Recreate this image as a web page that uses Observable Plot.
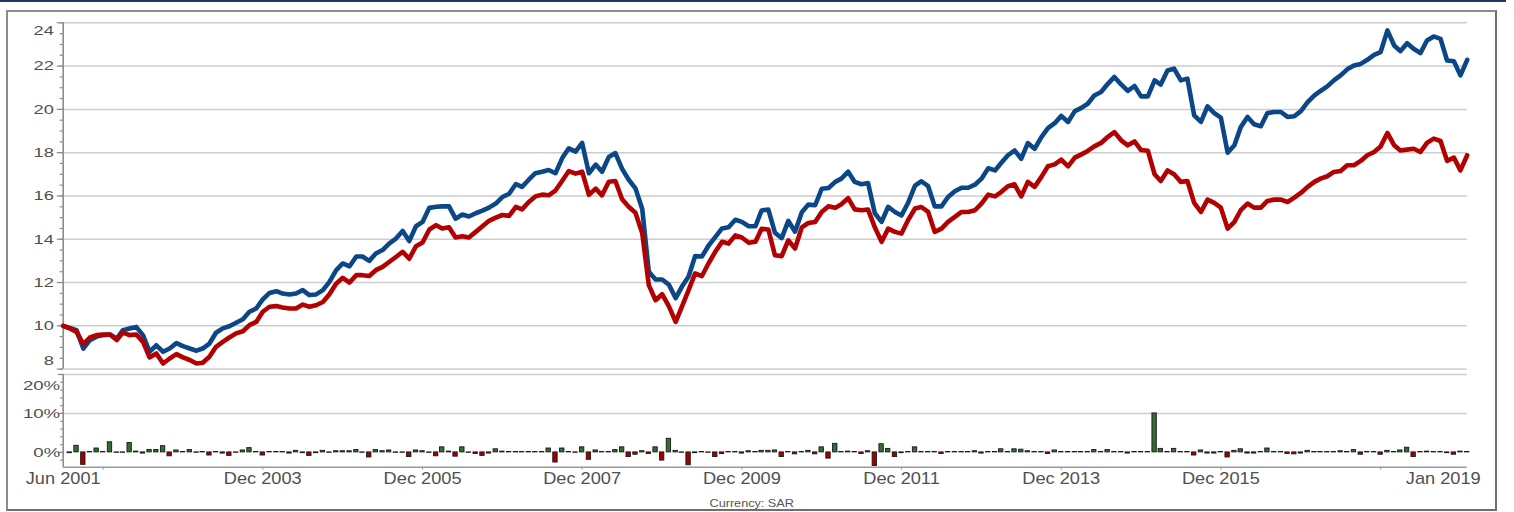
<!DOCTYPE html>
<html>
<head>
<meta charset="utf-8">
<script src="https://cdn.jsdelivr.net/npm/d3@7"></script>
<script src="https://cdn.jsdelivr.net/npm/@observablehq/plot@0.6"></script>
<style>
  body { margin: 0; background: #fff; }
  #wrap { position: relative; width: 1514px; height: 512px; overflow: hidden; font-family: "Liberation Sans", Arial, sans-serif; }
  #topline { position: absolute; left: 0; top: 0; width: 1506px; height: 2px; background: #1c3a5c; }
  #frame { position: absolute; left: 6px; top: 10px; width: 1487px; height: 497px;
           border-top: 2px solid #8c8c8c; border-left: 2px solid #8c8c8c;
           border-right: 2px solid #6f6f6f; border-bottom: 2px solid #6f6f6f; }
  #upper, #lower { position: absolute; left: 0; }
  #upper { top: 0; }
  #lower { top: 372px; }
  #caption { position: absolute; top: 497px; left: 6px; width: 1491px; text-align: center;
             font-size: 11px; line-height: 13px; color: #555; }
  #caption span { display: inline-block; transform: scaleX(1.15); }
</style>
</head>
<body>
<div id="wrap">
  <div id="topline"></div>
  <div id="frame"></div>
  <div id="upper"></div>
  <div id="lower"></div>
  <div id="caption"><span>Currency: SAR</span></div>
</div>
<script>
// ---- data (monthly, first value = Jun 2001) ----
const startYear = 2001;
const startMonthIndex = 5; // June

const fundValues = [
  10.0, 9.9, 9.8, 8.95, 9.34, 9.5, 9.57, 9.6, 9.4, 9.8,
  9.88, 9.95, 9.57, 8.8, 9.1, 8.8, 8.95, 9.2, 9.06, 8.95,
  8.85, 8.95, 9.18, 9.68, 9.88, 9.98, 10.14, 10.3, 10.65, 10.8,
  11.22, 11.52, 11.6, 11.49, 11.45, 11.49, 11.65, 11.42, 11.45, 11.65,
  12.03, 12.57, 12.88, 12.75, 13.2, 13.2, 13.0, 13.34, 13.5, 13.8,
  14.03, 14.38, 13.92, 14.6, 14.8,
  15.45, 15.5, 15.52, 15.52, 14.95, 15.14, 15.05, 15.2, 15.32, 15.46,
  15.65, 15.95, 16.1, 16.55, 16.42, 16.75, 17.05, 17.12, 17.2, 17.05,
  17.75, 18.2, 18.05, 18.45, 17.05, 17.45, 17.12, 17.8, 17.98, 17.25,
  16.75, 16.35, 15.4, 12.5, 12.14, 12.14, 11.9, 11.28, 11.8, 12.28,
  13.22, 13.2, 13.7, 14.1, 14.5, 14.55, 14.9, 14.8, 14.6, 14.6,
  15.33, 15.37, 14.3,
  14.05, 14.85, 14.35, 15.25, 15.6, 15.57, 16.33, 16.37, 16.65, 16.8,
  17.12, 16.65, 16.54, 16.6, 15.2, 14.8, 15.5, 15.26, 15.1, 15.7,
  16.48, 16.68, 16.45, 15.52, 15.52, 15.95, 16.22, 16.38, 16.38, 16.52,
  16.8, 17.28, 17.18, 17.52, 17.88, 18.1, 17.72, 18.44, 18.18, 18.72,
  19.13, 19.36, 19.7, 19.42, 19.92, 20.06, 20.26, 20.64, 20.8, 21.17,
  21.5, 21.15, 20.85, 21.08, 20.6, 20.6,
  21.34, 21.15, 21.8, 21.88, 21.34, 21.42, 19.72, 19.42, 20.14, 19.83,
  19.62, 18.0, 18.34, 19.18, 19.65, 19.31, 19.22, 19.83, 19.88, 19.88,
  19.65, 19.68, 19.92, 20.34, 20.65, 20.85, 21.06, 21.34, 21.57, 21.85,
  22.03, 22.1, 22.29, 22.52, 22.65, 23.65, 22.95, 22.69, 23.06, 22.8,
  22.6, 23.18, 23.37, 23.26, 22.26, 22.22, 21.57, 22.29
];

const benchmarkValues = [
  10.0, 9.88, 9.72, 9.15, 9.46, 9.57, 9.6, 9.6, 9.34, 9.69,
  9.57, 9.6, 9.26, 8.54, 8.72, 8.26, 8.49, 8.69, 8.54, 8.42,
  8.26, 8.29, 8.57, 9.03, 9.26, 9.46, 9.65, 9.75, 10.03, 10.18,
  10.65, 10.88, 10.91, 10.85, 10.8, 10.8, 10.98, 10.88, 10.95, 11.1,
  11.46, 11.95, 12.22, 12.0, 12.34, 12.34, 12.3, 12.57, 12.72, 12.95,
  13.18, 13.42, 13.1, 13.68, 13.85,
  14.45, 14.65, 14.5, 14.55, 14.08, 14.14, 14.08, 14.34, 14.6, 14.85,
  15.0, 15.12, 15.08, 15.5, 15.38, 15.72, 15.98, 16.06, 16.03, 16.25,
  16.7, 17.15, 17.03, 17.12, 16.05, 16.34, 16.03, 16.66, 16.69, 15.85,
  15.5, 15.22, 14.28, 11.88, 11.18, 11.46, 10.9, 10.18, 10.88, 11.65,
  12.42, 12.3, 12.88, 13.42, 13.88, 13.8, 14.18, 14.08, 13.84, 13.88,
  14.48, 14.45, 13.26,
  13.22, 13.95, 13.57, 14.55, 14.75, 14.8, 15.26, 15.52, 15.45, 15.62,
  15.9, 15.38, 15.34, 15.37, 14.55, 13.88, 14.49, 14.34, 14.26, 14.9,
  15.42, 15.49, 15.26, 14.34, 14.49, 14.8, 15.03, 15.26, 15.26, 15.34,
  15.65, 16.06, 15.98, 16.18, 16.45, 16.54, 15.98, 16.65, 16.42, 16.88,
  17.37, 17.46, 17.68, 17.37, 17.77, 17.91, 18.08, 18.29, 18.45, 18.72,
  18.95, 18.57, 18.34, 18.52, 18.12, 18.09,
  17.0, 16.69, 17.18, 17.0, 16.65, 16.69, 15.68, 15.26, 15.83, 15.68,
  15.46, 14.49, 14.8, 15.34, 15.65, 15.46, 15.46, 15.77, 15.83, 15.83,
  15.72, 15.92, 16.14, 16.42, 16.65, 16.8, 16.91, 17.11, 17.15, 17.42,
  17.42, 17.62, 17.88, 18.03, 18.29, 18.91, 18.34, 18.1, 18.14, 18.18,
  18.03, 18.45, 18.65, 18.54, 17.62, 17.77, 17.18, 17.88
];

// monthly relative returns in %, first value = Jul 2001
const relativeReturns = [
  -0.2, 1.7, -3.2, 0.1, 1.0, 0.1, 2.6, -0.1, -0.1, 2.4,
  0.2, -0.3, 0.6, 0.6, 1.6, -1.0, 0.5, 0.1, 0.6, -0.1,
  0.1, -0.8, 0.1, -0.3, -0.9, -0.1, 0.5, 1.1, 0.1, -0.8,
  0.1, 0.1, 0.1, -0.3, 0.4, -0.2, -0.9, -0.2, 0.4, -0.1,
  0.3, 0.3, 0.3, 0.6, -0.1, -1.3, 0.6, 0.3, 0.5, -0.1,
  -0.1, -1.2, 0.5, 0.3, -0.1, -1.0, 1.3, 0.2, -1.1, 1.3,
  -0.1, -0.4, -0.9, -0.3, 0.8, 0.2, 0.1, 0.1, 0.1, 0.1,
  0.1, 0.1, 1.0, -2.6, 1.0, 0.1, -0.1, 1.3, -1.9, 0.5,
  0.1, 0.1, 0.6, 1.3, -1.2, -0.6, 0.3, -0.4, 1.3, -2.1,
  3.5, 0.4, -0.1, -3.3, -0.2, 0.1, -0.1, -1.2, -0.4, 0.1,
  0.1, -0.3, 0.3, 0.1, 0.4, 0.4, 0.5, -1.2, 0.1, -0.5,
  0.1, 0.4, -0.5, 1.3, -1.6, 2.2, 0.1, 0.2, 0.1, -0.4,
  0.3, -3.5, 2.1, 0.9, -1.2, -0.2, 0.1, 1.3, 0.1, 0.1,
  0.1, -0.4, 0.1, 0.1, 0.1, 0.1, 0.3, -0.3, 0.1, 0.1,
  0.8, 0.1, 0.8, 0.7, 0.3, 0.1, 0.1, -0.4, 0.5, 0.1,
  0.1, 0.1, 0.1, 0.1, 0.6, 0.1, 0.6, 0.1, 0.1, -0.3,
  0.1, 0.1, 0.1, 10.0, 0.9, 0.1, 0.9, 0.1, 0.1, -0.8,
  0.5, -0.3, -0.3, 0.1, -1.3, 0.4, 0.8, -0.3, -0.3, 0.1,
  1.0, 0.1, 0.1, -0.4, -0.5, -0.3, 0.4, 0.1, 0.1, 0.1,
  0.1, 0.3, 0.1, 0.6, -0.6, 0.1, 0.1, -0.6, 0.4, 0.1,
  0.5, 1.2, -1.2, 0.1, 0.2, 0.1, 0.1, -0.2, -0.6, 0.2, 0.1
];

const upperTicks = [8, 10, 12, 14, 16, 18, 20, 22, 24];
const upperMinorStep = 0.5;
const lowerTicks = [0, 10, 20];
const lowerTickLabels = ["0%", "10%", "20%"];
const lowerMinorStep = 2;
const xTickDates = ["2001-12", "2003-12", "2005-12", "2007-12", "2009-12", "2011-12", "2013-12", "2015-12", "2017-12"];
const xLabelDates = ["2001-06", "2003-12", "2005-12", "2007-12", "2009-12", "2011-12", "2013-12", "2015-12", "2019-01"];
const xLabelTexts = ["Jun 2001", "Dec 2003", "Dec 2005", "Dec 2007", "Dec 2009", "Dec 2011", "Dec 2013", "Dec 2015", "Jan 2019"];

// ---- derived tables ----
const monthDate = i => new Date(Date.UTC(startYear, startMonthIndex + i, 1));
const parseMonth = s => { const [y, m] = s.split("-").map(Number); return new Date(Date.UTC(y, m - 1, 1)); };
const fundData = fundValues.map((v, i) => ({date: monthDate(i), value: v}));
const benchData = benchmarkValues.map((v, i) => ({date: monthDate(i), value: v}));
const barData = relativeReturns.map((v, i) => ({date: monthDate(i + 1), value: v}));
const labelData = xLabelDates.map((d, i) => ({date: parseMonth(d), text: xLabelTexts[i]}));

const BLUE = "#0b4787", RED = "#b30000", GREEN = "#336b33", BAR_RED = "#a00000";
const GRID = "#cdcdcd", AXIS = "#8c8c8c", TEXT = "#505050";
const FONT = "Liberation Sans, Arial, sans-serif";

const xScale = {type: "utc", domain: [monthDate(0), monthDate(fundValues.length - 1)], range: [62.7, 1466.7]};

const uMin = upperTicks[0], uMax = upperTicks[upperTicks.length - 1];
const upperMinor = d3.range(uMin, uMax + 1e-9, upperMinorStep);
const lMin = -3.8, lMax = 20;
const lowerMinor = d3.range(-2, lMax + 1e-9, lowerMinorStep);

const upper = Plot.plot({
  width: 1514, height: 372,
  marginLeft: 62.7, marginRight: 47.3, marginTop: 22.3, marginBottom: 3.4,
  style: {background: "transparent", overflow: "visible"},
  x: {...xScale, axis: null},
  y: {domain: [uMin, uMax]},
  marks: [
    Plot.ruleY(upperTicks, {stroke: GRID, strokeWidth: 1.5}),
    Plot.axisY({ticks: upperMinor, tickSize: 3, tickFormat: () => "", label: null, stroke: AXIS, strokeWidth: 1.2}),
    Plot.axisY({ticks: upperTicks, tickSize: 6, tickFormat: () => "", label: null, stroke: AXIS, strokeWidth: 1.2}),
    Plot.ruleX([monthDate(0)], {y1: uMin, y2: uMax, stroke: AXIS, strokeWidth: 1.6}),
    Plot.text(upperTicks.filter(t => t !== uMin && t !== uMax), {y: d => d, text: d => String(d), frameAnchor: "left", textAnchor: "end", dx: -9.4, fontSize: 13.5, fontFamily: FONT, fill: TEXT}),
    Plot.text([uMax], {y: d => d, text: d => String(d), frameAnchor: "left", textAnchor: "end", dx: -9.4, dy: 7.4, fontSize: 13.5, fontFamily: FONT, fill: TEXT}),
    Plot.text([uMin], {y: d => d, text: d => String(d), frameAnchor: "left", textAnchor: "end", dx: -9.4, dy: -8, fontSize: 13.5, fontFamily: FONT, fill: TEXT}),
    Plot.lineY(fundData, {x: "date", y: "value", stroke: BLUE, strokeWidth: 4.6, strokeLinejoin: "round", strokeLinecap: "round"}),
    Plot.lineY(benchData, {x: "date", y: "value", stroke: RED, strokeWidth: 4.6, strokeLinejoin: "round", strokeLinecap: "round"})
  ]
});

const halfBar = 10;
const lower = Plot.plot({
  width: 1514, height: 140,
  marginLeft: 62.7, marginRight: 47.3, marginTop: 2, marginBottom: 45.3,
  style: {background: "transparent", overflow: "visible"},
  x: {...xScale},
  y: {domain: [lMin, lMax]},
  marks: [
    Plot.ruleY(lowerTicks.filter(t => t !== 0), {stroke: GRID, strokeWidth: 1.5}),
    Plot.axisY({ticks: lowerMinor, tickSize: 2.5, tickFormat: () => "", label: null, stroke: AXIS, strokeWidth: 1.2}),
    Plot.axisY({ticks: lowerTicks, tickSize: 5, tickFormat: () => "", label: null, stroke: AXIS, strokeWidth: 1.2}),
    Plot.ruleX([monthDate(0)], {y1: lMin, y2: lMax, stroke: AXIS, strokeWidth: 1.6}),
    Plot.text(lowerTicks.filter(t => t !== lMax), {y: d => d, text: d => lowerTickLabels[lowerTicks.indexOf(d)], frameAnchor: "left", textAnchor: "end", dx: -3, fontSize: 13.5, fontFamily: FONT, fill: TEXT}),
    Plot.text([lMax], {y: d => d, text: d => lowerTickLabels[lowerTicks.indexOf(d)], frameAnchor: "left", textAnchor: "end", dx: -3, dy: 11.6, fontSize: 13.5, fontFamily: FONT, fill: TEXT}),
    Plot.rect(barData.filter(d => d.value >= 0), {
      x1: d => d3.utcDay.offset(d.date, -halfBar), x2: d => d3.utcDay.offset(d.date, halfBar),
      y1: 0, y2: "value", fill: GREEN, stroke: "#1a1a1a", strokeWidth: 0.9
    }),
    Plot.rect(barData.filter(d => d.value < 0), {
      x1: d => d3.utcDay.offset(d.date, -halfBar), x2: d => d3.utcDay.offset(d.date, halfBar),
      y1: 0, y2: "value", fill: BAR_RED, stroke: "#1a1a1a", strokeWidth: 0.9
    }),
    Plot.ruleY([lMin], {stroke: "#9a9a9a", strokeWidth: 1.6}),
    Plot.axisX({ticks: xTickDates.map(parseMonth), tickSize: 3, tickFormat: () => "", label: null, stroke: "#9a9a9a"}),
    Plot.text(labelData.slice(0, -1), {x: "date", text: "text", frameAnchor: "bottom", dy: 11.5, lineAnchor: "middle", fontSize: 17, fontFamily: FONT, fill: TEXT}),
    Plot.text(labelData.slice(-1), {x: "date", text: "text", frameAnchor: "bottom", dy: 11.5, dx: 13.5, textAnchor: "end", lineAnchor: "middle", fontSize: 17, fontFamily: FONT, fill: TEXT})
  ]
});

document.getElementById("upper").appendChild(upper);
document.getElementById("lower").appendChild(lower);

// widen the label glyphs a little, as in the reference rendering
function stretch(svg, factorFor) {
  svg.querySelectorAll("text").forEach(t => {
    const s = t.textContent;
    if (!s) return;
    const len = t.getComputedTextLength();
    if (!len) return;
    t.setAttribute("textLength", (len * factorFor(s)).toFixed(2));
    t.setAttribute("lengthAdjust", "spacingAndGlyphs");
  });
}
stretch(upper, () => 1.35);
stretch(lower, s => s.includes("%") ? 1.38 : 1.07);
</script>
</body>
</html>
